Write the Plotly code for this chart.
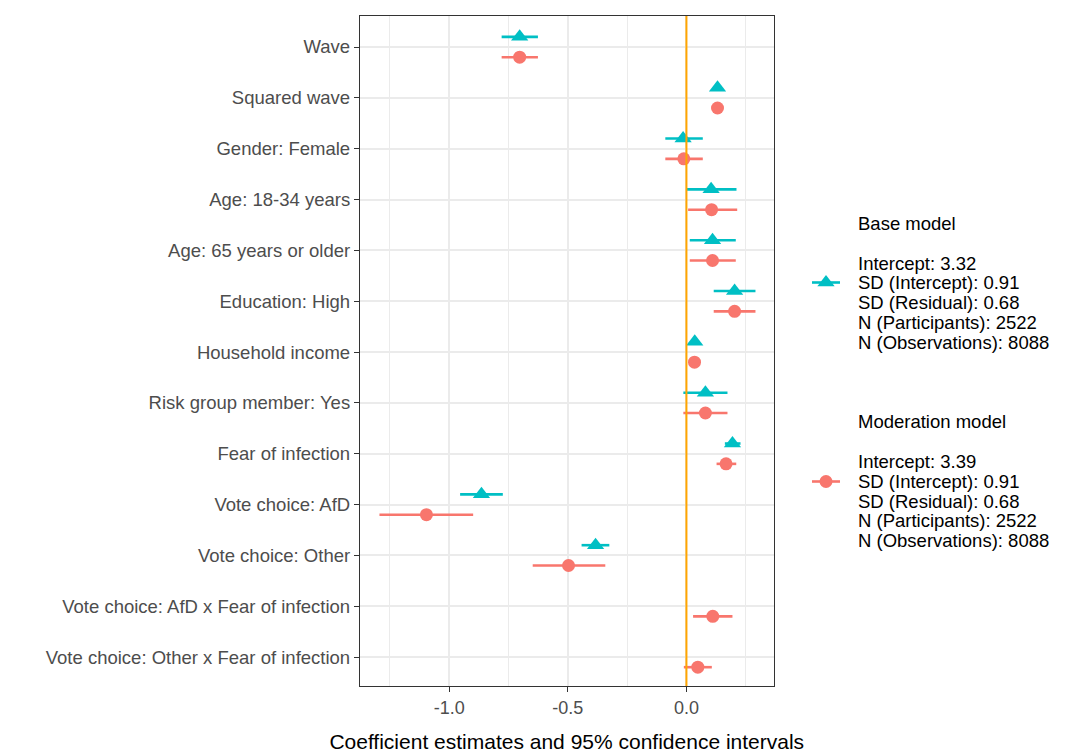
import plotly.graph_objects as go

labels = ["Wave", "Squared wave", "Gender: Female", "Age: 18-34 years",
          "Age: 65 years or older", "Education: High", "Household income",
          "Risk group member: Yes", "Fear of infection", "Vote choice: AfD",
          "Vote choice: Other", "Vote choice: AfD x Fear of infection",
          "Vote choice: Other x Fear of infection"]

base_est = [-0.703, 0.131, -0.014, 0.104, 0.110, 0.203, 0.035, 0.080, 0.194, -0.864, -0.383, None, None]
base_lo = [-0.779, 0.122, -0.089, 0.000, 0.014, 0.115, 0.028, -0.013, 0.162, -0.954, -0.442, None, None]
base_hi = [-0.626, 0.140, 0.069, 0.211, 0.208, 0.291, 0.042, 0.173, 0.228, -0.774, -0.325, None, None]

mod_est = [-0.703, 0.131, -0.011, 0.106, 0.110, 0.203, 0.034, 0.080, 0.167, -1.096, -0.497, 0.111, 0.048]
mod_lo = [-0.779, 0.122, -0.089, 0.007, 0.014, 0.115, 0.027, -0.013, 0.127, -1.294, -0.648, 0.028, -0.011]
mod_hi = [-0.626, 0.140, 0.069, 0.214, 0.208, 0.291, 0.041, 0.173, 0.210, -0.899, -0.342, 0.194, 0.107]

base_legend = ["Base model", "Intercept: 3.32", "SD (Intercept): 0.91", "SD (Residual): 0.68",
               "N (Participants): 2522", "N (Observations): 8088"]
mod_legend = ["Moderation model", "Intercept: 3.39", "SD (Intercept): 0.91", "SD (Residual): 0.68",
              "N (Participants): 2522", "N (Observations): 8088"]

TEAL = "#00BFC4"
SALMON = "#F8766D"
FONT = "Arial, Liberation Sans, sans-serif"
TXT = 18.5

n = len(labels)
ypos = [n - 1 - i for i in range(n)]
dodge = 0.2


def trace(est, lo, hi, color, symbol, size, offset):
    xs, ys, ep, em = [], [], [], []
    for y, e, l, h in zip(ypos, est, lo, hi):
        if e is None:
            continue
        xs.append(e)
        ys.append(y + offset)
        ep.append(h - e)
        em.append(e - l)
    return go.Scatter(
        x=xs, y=ys, mode="markers",
        marker=dict(color=color, symbol=symbol, size=size, line=dict(width=0)),
        error_x=dict(type="data", array=ep, arrayminus=em, color=color,
                     thickness=2.6, width=0),
        showlegend=False, xaxis="x", yaxis="y")


fig = go.Figure()
fig.add_trace(trace(mod_est, mod_lo, mod_hi, SALMON, "circle", 13, -dodge))
fig.add_trace(trace(base_est, base_lo, base_hi, TEAL, "triangle-up", 15, dodge))

# legend keys on a small auxiliary axis
W, H = 1067, 753
ml, mr, mt, mb = 360, 0, 16, 67
pw = W - ml - mr
ph = H - mt - mb


def px_x(px):
    return (px - ml) / pw


def px_y(py):
    return (H - mb - py) / ph


key_y = [px_y(282.5), px_y(481.5)]
for ky, col, sym, sz in [(key_y[0], TEAL, "triangle-up", 15), (key_y[1], SALMON, "circle", 13)]:
    fig.add_trace(go.Scatter(x=[0, 1], y=[ky, ky], mode="lines",
                             line=dict(color=col, width=2.6), showlegend=False,
                             xaxis="x2", yaxis="y2", hoverinfo="skip"))
    fig.add_trace(go.Scatter(x=[0.5], y=[ky], mode="markers",
                             marker=dict(color=col, symbol=sym, size=sz), showlegend=False,
                             xaxis="x2", yaxis="y2", hoverinfo="skip"))

annotations = []
for block, first_line in [(base_legend, 263.0), (mod_legend, 461.7)]:
    centers = [first_line - 40] + [first_line + 19.75 * k for k in range(5)]
    for txt, cy in zip(block, centers):
        annotations.append(dict(text=txt, x=px_x(856), y=px_y(cy), xref="paper", yref="paper",
                                xanchor="left", yanchor="middle", showarrow=False,
                                font=dict(family=FONT, size=TXT, color="black")))

fig.add_shape(type="line", x0=0, x1=0, y0=0, y1=1, xref="x", yref="paper",
              line=dict(color="#FFA500", width=2), layer="above")

fig.update_layout(
    width=W, height=H,
    margin=dict(l=ml, r=mr, t=mt, b=mb),
    paper_bgcolor="white", plot_bgcolor="white",
    font=dict(family=FONT),
    annotations=annotations,
    xaxis=dict(domain=[0, px_x(773.5)], range=[-1.376, 0.367],
               tickvals=[-1.0, -0.5, 0.0], ticktext=["-1.0", "-0.5", "0.0"],
               showgrid=True, gridcolor="#EBEBEB", gridwidth=1.6,
               minor=dict(dtick=0.25, tick0=0, showgrid=True, gridcolor="#EBEBEB", gridwidth=0.8),
               ticks="outside", ticklen=5, tickwidth=1, tickcolor="#333333",
               tickfont=dict(family=FONT, size=18, color="#4D4D4D"),
               showline=True, mirror=True, linecolor="#333333", linewidth=1.3,
               zeroline=False,
               title=dict(text="Coefficient estimates and 95% confidence intervals",
                          font=dict(family=FONT, size=21, color="black"), standoff=20)),
    yaxis=dict(domain=[0, 1], range=[-0.57, n - 1 + 0.61],
               tickvals=ypos, ticktext=labels,
               showgrid=True, gridcolor="#EBEBEB", gridwidth=1.6,
               ticks="outside", ticklen=5, tickwidth=1, tickcolor="#333333",
               tickfont=dict(family=FONT, size=TXT, color="#4D4D4D"),
               showline=True, mirror=True, linecolor="#333333", linewidth=1.3,
               zeroline=False),
    xaxis2=dict(domain=[px_x(812), px_x(840)], range=[0, 1], visible=False, anchor="y2"),
    yaxis2=dict(domain=[0, 1], range=[0, 1], visible=False, anchor="x2"),
)

fig.write_html("out.html", config={"displayModeBar": False},
               post_script="document.body.style.margin='0';")
